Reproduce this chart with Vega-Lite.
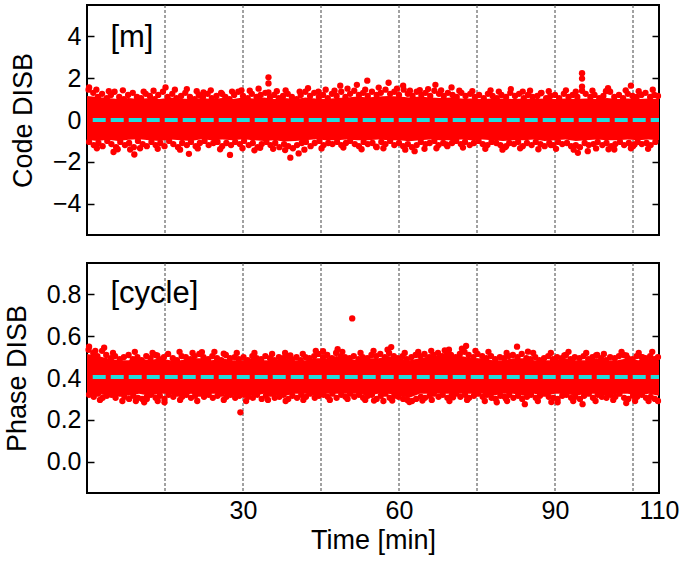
{
"$schema":"https://vega.github.io/schema/vega-lite/v6.json",
"padding":{"left":2,"top":3,"right":5,"bottom":5},
"config":{"view":{"stroke":"black","strokeWidth":2},"font":"Liberation Sans",
 "axis":{"labelFont":"Liberation Sans","titleFont":"Liberation Sans","labelColor":"black","titleColor":"black","titleFontWeight":"normal","domain":false,"grid":false,"tickColor":"black","tickWidth":1.5}},
"datasets":{
"grid":[{"t":15},{"t":30},{"t":45},{"t":60},{"t":75},{"t":90},{"t":105}],
"codeBand":[{"t":0,"hi":1.15,"lo":-0.95},{"t":2,"hi":1.1,"lo":-1.0},{"t":4,"hi":1.05,"lo":-0.95},{"t":6,"hi":1.0,"lo":-1.0},{"t":8,"hi":1.05,"lo":-0.95},{"t":10,"hi":1.0,"lo":-0.92},{"t":12,"hi":1.05,"lo":-0.97},{"t":14,"hi":1.0,"lo":-1.0},{"t":16,"hi":1.08,"lo":-0.93},{"t":18,"hi":1.03,"lo":-0.97},{"t":20,"hi":1.0,"lo":-1.0},{"t":22,"hi":1.05,"lo":-0.92},{"t":24,"hi":1.0,"lo":-0.97},{"t":26,"hi":1.05,"lo":-0.93},{"t":28,"hi":1.0,"lo":-0.97},{"t":30,"hi":1.08,"lo":-0.92},{"t":32,"hi":1.03,"lo":-0.97},{"t":34,"hi":1.08,"lo":-1.0},{"t":36,"hi":1.0,"lo":-0.97},{"t":38,"hi":1.05,"lo":-1.03},{"t":40,"hi":1.0,"lo":-1.0},{"t":42,"hi":1.08,"lo":-0.97},{"t":44,"hi":1.03,"lo":-0.92},{"t":46,"hi":1.0,"lo":-0.97},{"t":48,"hi":1.05,"lo":-0.97},{"t":50,"hi":1.08,"lo":-0.93},{"t":52,"hi":1.12,"lo":-0.97},{"t":54,"hi":1.08,"lo":-0.97},{"t":56,"hi":1.12,"lo":-0.93},{"t":58,"hi":1.15,"lo":-0.97},{"t":60,"hi":1.12,"lo":-0.97},{"t":62,"hi":1.08,"lo":-1.02},{"t":64,"hi":1.12,"lo":-0.97},{"t":66,"hi":1.08,"lo":-0.93},{"t":68,"hi":1.05,"lo":-0.97},{"t":70,"hi":1.08,"lo":-0.97},{"t":72,"hi":1.03,"lo":-0.93},{"t":74,"hi":1.03,"lo":-0.97},{"t":76,"hi":1.0,"lo":-0.93},{"t":78,"hi":1.03,"lo":-0.97},{"t":80,"hi":1.03,"lo":-1.0},{"t":82,"hi":1.0,"lo":-0.97},{"t":84,"hi":1.03,"lo":-0.97},{"t":86,"hi":1.0,"lo":-0.93},{"t":88,"hi":1.03,"lo":-1.0},{"t":90,"hi":1.0,"lo":-0.97},{"t":92,"hi":1.03,"lo":-0.93},{"t":94,"hi":1.0,"lo":-1.0},{"t":96,"hi":1.03,"lo":-0.97},{"t":98,"hi":1.0,"lo":-0.93},{"t":100,"hi":1.05,"lo":-0.97},{"t":102,"hi":1.0,"lo":-0.97},{"t":104,"hi":1.03,"lo":-0.93},{"t":106,"hi":1.0,"lo":-0.97},{"t":108,"hi":1.03,"lo":-0.93},{"t":110,"hi":1.0,"lo":-0.97}],
"codePts":[
{"t":0.3,"v":1.45},{"t":1.2,"v":1.3},{"t":2.1,"v":1.1},{"t":2.9,"v":1.25},{"t":3.8,"v":1.05},{"t":4.6,"v":1.2},{"t":5.3,"v":1.35},{"t":6.2,"v":1.1},{"t":7.1,"v":1.0},{"t":7.9,"v":1.2},{"t":8.8,"v":1.3},{"t":9.6,"v":1.1},{"t":10.4,"v":1.05},{"t":11.3,"v":1.25},{"t":12.1,"v":1.15},{"t":13.0,"v":1.0},{"t":13.7,"v":1.2},{"t":14.6,"v":1.35},{"t":15.5,"v":1.1},{"t":16.4,"v":1.25},{"t":17.2,"v":1.05},{"t":18.1,"v":1.15},{"t":18.9,"v":1.3},{"t":19.8,"v":1.1},{"t":20.7,"v":1.0},{"t":21.5,"v":1.2},{"t":22.3,"v":1.1},{"t":23.2,"v":1.25},{"t":24.0,"v":1.05},{"t":24.9,"v":1.15},{"t":25.8,"v":1.3},{"t":26.6,"v":1.1},{"t":27.4,"v":1.0},{"t":28.3,"v":1.2},{"t":29.1,"v":1.35},{"t":30.0,"v":1.15},{"t":30.9,"v":1.05},{"t":31.7,"v":1.25},{"t":32.6,"v":1.1},{"t":33.4,"v":1.2},{"t":34.3,"v":1.3},{"t":35.2,"v":1.1},{"t":36.0,"v":1.2},{"t":36.9,"v":1.05},{"t":37.7,"v":1.15},{"t":38.6,"v":1.25},{"t":39.4,"v":1.1},{"t":40.3,"v":1.0},{"t":41.1,"v":1.2},{"t":42.0,"v":1.35},{"t":42.9,"v":1.15},{"t":43.7,"v":1.3},{"t":44.6,"v":1.1},{"t":45.4,"v":1.2},{"t":46.3,"v":1.05},{"t":47.1,"v":1.25},{"t":48.0,"v":1.15},{"t":48.9,"v":1.35},{"t":49.7,"v":1.1},{"t":50.6,"v":1.25},{"t":51.4,"v":1.4},{"t":52.3,"v":1.2},{"t":53.1,"v":1.3},{"t":54.0,"v":1.15},{"t":54.8,"v":1.35},{"t":55.7,"v":1.2},{"t":56.5,"v":1.3},{"t":57.4,"v":1.45},{"t":58.3,"v":1.25},{"t":59.1,"v":1.35},{"t":60.0,"v":1.2},{"t":60.9,"v":1.45},{"t":61.7,"v":1.25},{"t":62.6,"v":1.15},{"t":63.4,"v":1.35},{"t":64.3,"v":1.2},{"t":65.1,"v":1.3},{"t":66.0,"v":1.15},{"t":66.8,"v":1.4},{"t":67.7,"v":1.25},{"t":68.6,"v":1.15},{"t":69.4,"v":1.3},{"t":70.3,"v":1.2},{"t":71.1,"v":1.1},{"t":72.0,"v":1.3},{"t":72.8,"v":1.15},{"t":73.7,"v":1.25},{"t":74.6,"v":1.1},{"t":75.4,"v":1.2},{"t":76.3,"v":1.05},{"t":77.1,"v":1.25},{"t":78.0,"v":1.15},{"t":78.8,"v":1.05},{"t":79.7,"v":1.2},{"t":80.6,"v":1.1},{"t":81.4,"v":1.3},{"t":82.3,"v":1.15},{"t":83.1,"v":1.25},{"t":84.0,"v":1.05},{"t":84.8,"v":1.2},{"t":85.7,"v":1.1},{"t":86.6,"v":1.15},{"t":87.4,"v":1.3},{"t":88.3,"v":1.05},{"t":89.1,"v":1.15},{"t":90.0,"v":1.2},{"t":90.8,"v":1.05},{"t":91.7,"v":1.25},{"t":92.6,"v":1.1},{"t":93.4,"v":1.2},{"t":94.3,"v":1.1},{"t":95.9,"v":1.25},{"t":96.8,"v":1.1},{"t":97.6,"v":1.2},{"t":98.5,"v":1.05},{"t":99.3,"v":1.15},{"t":100.6,"v":1.35},{"t":101.4,"v":1.1},{"t":102.3,"v":1.2},{"t":103.1,"v":1.05},{"t":104.0,"v":1.25},{"t":104.9,"v":1.15},{"t":105.7,"v":1.1},{"t":106.6,"v":1.2},{"t":107.4,"v":1.3},{"t":108.3,"v":1.1},{"t":109.1,"v":1.2},{"t":109.8,"v":1.15},
{"t":0.4,"v":-1.05},{"t":1.3,"v":-1.2},{"t":2.2,"v":-1.1},{"t":3.0,"v":-1.25},{"t":3.9,"v":-1.0},{"t":4.7,"v":-1.15},{"t":5.6,"v":-1.3},{"t":6.4,"v":-1.05},{"t":7.3,"v":-1.2},{"t":8.1,"v":-1.1},{"t":9.0,"v":-1.3},{"t":9.8,"v":-1.0},{"t":10.7,"v":-1.15},{"t":11.5,"v":-1.25},{"t":12.4,"v":-1.05},{"t":13.2,"v":-1.2},{"t":14.1,"v":-1.1},{"t":14.9,"v":-1.25},{"t":15.8,"v":-1.0},{"t":16.6,"v":-1.15},{"t":17.5,"v":-1.3},{"t":18.3,"v":-1.1},{"t":19.2,"v":-1.2},{"t":20.0,"v":-1.05},{"t":20.9,"v":-1.25},{"t":21.7,"v":-1.1},{"t":22.6,"v":-1.0},{"t":23.4,"v":-1.2},{"t":24.3,"v":-1.1},{"t":25.1,"v":-1.05},{"t":26.0,"v":-1.25},{"t":26.8,"v":-1.1},{"t":27.7,"v":-1.2},{"t":28.5,"v":-1.05},{"t":29.4,"v":-1.15},{"t":30.2,"v":-1.0},{"t":31.1,"v":-1.2},{"t":31.9,"v":-1.1},{"t":32.8,"v":-1.3},{"t":33.6,"v":-1.15},{"t":34.5,"v":-1.05},{"t":35.3,"v":-1.2},{"t":36.2,"v":-1.1},{"t":37.0,"v":-1.3},{"t":37.9,"v":-1.15},{"t":38.7,"v":-1.25},{"t":39.6,"v":-1.35},{"t":40.4,"v":-1.2},{"t":41.3,"v":-1.1},{"t":42.1,"v":-1.05},{"t":43.0,"v":-1.25},{"t":43.8,"v":-1.1},{"t":44.7,"v":-1.0},{"t":45.5,"v":-1.2},{"t":46.4,"v":-1.1},{"t":47.2,"v":-1.15},{"t":48.1,"v":-1.05},{"t":48.9,"v":-1.2},{"t":49.8,"v":-1.1},{"t":50.6,"v":-1.0},{"t":51.5,"v":-1.15},{"t":52.3,"v":-1.25},{"t":53.2,"v":-1.05},{"t":54.0,"v":-1.15},{"t":54.9,"v":-1.1},{"t":55.7,"v":-1.3},{"t":56.6,"v":-1.05},{"t":57.4,"v":-1.15},{"t":58.3,"v":-1.0},{"t":59.1,"v":-1.2},{"t":60.0,"v":-1.1},{"t":60.8,"v":-1.25},{"t":61.7,"v":-1.15},{"t":62.5,"v":-1.3},{"t":63.4,"v":-1.2},{"t":64.2,"v":-1.05},{"t":65.1,"v":-1.15},{"t":65.9,"v":-1.1},{"t":66.8,"v":-1.0},{"t":67.6,"v":-1.2},{"t":68.5,"v":-1.1},{"t":69.3,"v":-1.25},{"t":70.2,"v":-1.1},{"t":71.0,"v":-1.0},{"t":71.9,"v":-1.15},{"t":72.7,"v":-1.05},{"t":73.6,"v":-1.2},{"t":74.4,"v":-1.1},{"t":75.3,"v":-1.0},{"t":76.1,"v":-1.15},{"t":77.0,"v":-1.2},{"t":77.8,"v":-1.05},{"t":78.7,"v":-1.1},{"t":79.5,"v":-1.2},{"t":80.4,"v":-1.3},{"t":81.2,"v":-1.1},{"t":82.1,"v":-1.15},{"t":82.9,"v":-1.05},{"t":83.8,"v":-1.25},{"t":84.6,"v":-1.1},{"t":85.5,"v":-1.2},{"t":86.3,"v":-1.05},{"t":87.2,"v":-1.15},{"t":88.0,"v":-1.25},{"t":88.9,"v":-1.1},{"t":89.7,"v":-1.2},{"t":90.6,"v":-1.05},{"t":91.4,"v":-1.15},{"t":92.3,"v":-1.1},{"t":93.1,"v":-1.25},{"t":94.0,"v":-1.2},{"t":94.8,"v":-1.3},{"t":95.7,"v":-1.1},{"t":96.5,"v":-1.2},{"t":97.4,"v":-1.15},{"t":98.2,"v":-1.05},{"t":99.1,"v":-1.2},{"t":99.9,"v":-1.1},{"t":100.8,"v":-1.25},{"t":101.6,"v":-1.15},{"t":102.5,"v":-1.05},{"t":103.3,"v":-1.2},{"t":104.2,"v":-1.1},{"t":105.0,"v":-1.25},{"t":105.9,"v":-1.05},{"t":106.7,"v":-1.15},{"t":107.6,"v":-1.1},{"t":108.4,"v":-1.2},{"t":109.3,"v":-1.05},
{"t":1.8,"v":1.45},{"t":4.2,"v":1.38},{"t":6.9,"v":1.42},{"t":10.9,"v":1.36},{"t":12.8,"v":1.4},{"t":16.9,"v":1.45},{"t":21.1,"v":1.38},{"t":23.8,"v":1.42},{"t":27.9,"v":1.36},{"t":31.3,"v":1.4},{"t":33.0,"v":1.5},{"t":36.5,"v":1.38},{"t":38.2,"v":1.42},{"t":40.9,"v":1.36},{"t":45.9,"v":1.45},{"t":47.6,"v":1.4},{"t":50.1,"v":1.5},{"t":53.5,"v":1.45},{"t":56.1,"v":1.55},{"t":59.6,"v":1.5},{"t":62.1,"v":1.4},{"t":65.6,"v":1.48},{"t":68.1,"v":1.42},{"t":71.6,"v":1.4},{"t":74.1,"v":1.38},{"t":77.6,"v":1.42},{"t":79.2,"v":1.36},{"t":85.2,"v":1.4},{"t":88.8,"v":1.38},{"t":92.1,"v":1.42},{"t":94.0,"v":1.36},{"t":97.2,"v":1.4},{"t":99.8,"v":1.38},{"t":103.6,"v":1.42},{"t":106.1,"v":1.38},{"t":108.8,"v":1.45},
{"t":1.9,"v":-1.35},{"t":5.9,"v":-1.4},{"t":10.2,"v":-1.35},{"t":13.6,"v":-1.38},{"t":17.9,"v":-1.42},{"t":21.3,"v":-1.36},{"t":25.6,"v":-1.4},{"t":29.9,"v":-1.35},{"t":32.2,"v":-1.45},{"t":35.8,"v":-1.38},{"t":41.8,"v":-1.42},{"t":45.1,"v":-1.36},{"t":49.3,"v":-1.32},{"t":52.8,"v":-1.4},{"t":57.0,"v":-1.35},{"t":61.2,"v":-1.42},{"t":64.9,"v":-1.38},{"t":67.2,"v":-1.35},{"t":72.3,"v":-1.32},{"t":76.6,"v":-1.38},{"t":79.9,"v":-1.42},{"t":83.3,"v":-1.35},{"t":86.8,"v":-1.4},{"t":90.2,"v":-1.38},{"t":93.6,"v":-1.42},{"t":97.9,"v":-1.36},{"t":100.3,"v":-1.4},{"t":104.6,"v":-1.35},{"t":107.9,"v":-1.38},
{"t":0.4,"v":1.56},{"t":5.1,"v":-1.53},{"t":8.3,"v":-1.41},{"t":9.1,"v":-1.65},{"t":15.1,"v":1.56},{"t":19.2,"v":1.48},{"t":19.6,"v":-1.62},{"t":22.4,"v":1.32},{"t":26,"v":1.24},{"t":27.5,"v":-1.67},{"t":29.7,"v":1.42},{"t":33.3,"v":-1.33},{"t":34.9,"v":2.04},{"t":34.9,"v":1.75},{"t":34.9,"v":1.32},{"t":38.1,"v":-1.44},{"t":39.1,"v":-1.8},{"t":40.7,"v":-1.6},{"t":42.5,"v":1.52},{"t":44.5,"v":1.36},{"t":48.7,"v":1.64},{"t":51.9,"v":1.68},{"t":53.9,"v":1.88},{"t":55.6,"v":-1.27},{"t":58,"v":1.78},{"t":60.8,"v":1.64},{"t":63,"v":-1.49},{"t":64,"v":1.43},{"t":67,"v":1.68},{"t":69.1,"v":-1.17},{"t":70.1,"v":1.56},{"t":80.6,"v":-1.25},{"t":81.5,"v":1.48},{"t":83.8,"v":1.36},{"t":87.3,"v":1.28},{"t":89.2,"v":-1.2},{"t":94.4,"v":-1.57},{"t":95.2,"v":2.24},{"t":95.2,"v":1.98},{"t":95.2,"v":1.6},{"t":95.2,"v":1.4},{"t":96.3,"v":-1.49},{"t":100.2,"v":1.52},{"t":101.4,"v":-1.41},{"t":104.6,"v":1.64},{"t":105.3,"v":-1.17}],
"phaseBand":[{"t":0,"hi":0.515,"lo":0.315},{"t":2,"hi":0.505,"lo":0.325},{"t":4,"hi":0.495,"lo":0.315},{"t":6,"hi":0.485,"lo":0.325},{"t":8,"hi":0.485,"lo":0.315},{"t":10,"hi":0.495,"lo":0.325},{"t":12,"hi":0.485,"lo":0.315},{"t":14,"hi":0.495,"lo":0.325},{"t":16,"hi":0.485,"lo":0.325},{"t":18,"hi":0.485,"lo":0.315},{"t":20,"hi":0.495,"lo":0.325},{"t":22,"hi":0.495,"lo":0.315},{"t":24,"hi":0.485,"lo":0.325},{"t":26,"hi":0.495,"lo":0.325},{"t":28,"hi":0.485,"lo":0.315},{"t":30,"hi":0.485,"lo":0.325},{"t":32,"hi":0.495,"lo":0.315},{"t":34,"hi":0.485,"lo":0.325},{"t":36,"hi":0.485,"lo":0.315},{"t":38,"hi":0.495,"lo":0.315},{"t":40,"hi":0.485,"lo":0.325},{"t":42,"hi":0.485,"lo":0.325},{"t":44,"hi":0.495,"lo":0.315},{"t":46,"hi":0.495,"lo":0.325},{"t":48,"hi":0.505,"lo":0.325},{"t":50,"hi":0.495,"lo":0.325},{"t":52,"hi":0.485,"lo":0.325},{"t":54,"hi":0.495,"lo":0.315},{"t":56,"hi":0.495,"lo":0.325},{"t":58,"hi":0.505,"lo":0.325},{"t":60,"hi":0.495,"lo":0.315},{"t":62,"hi":0.485,"lo":0.305},{"t":64,"hi":0.495,"lo":0.325},{"t":66,"hi":0.505,"lo":0.325},{"t":68,"hi":0.505,"lo":0.325},{"t":70,"hi":0.505,"lo":0.325},{"t":72,"hi":0.505,"lo":0.325},{"t":74,"hi":0.495,"lo":0.325},{"t":76,"hi":0.495,"lo":0.325},{"t":78,"hi":0.485,"lo":0.315},{"t":80,"hi":0.485,"lo":0.325},{"t":82,"hi":0.495,"lo":0.325},{"t":84,"hi":0.495,"lo":0.315},{"t":86,"hi":0.485,"lo":0.325},{"t":88,"hi":0.485,"lo":0.315},{"t":90,"hi":0.485,"lo":0.325},{"t":92,"hi":0.495,"lo":0.325},{"t":94,"hi":0.485,"lo":0.315},{"t":96,"hi":0.485,"lo":0.325},{"t":98,"hi":0.495,"lo":0.325},{"t":100,"hi":0.485,"lo":0.315},{"t":102,"hi":0.485,"lo":0.325},{"t":104,"hi":0.495,"lo":0.325},{"t":106,"hi":0.485,"lo":0.315},{"t":108,"hi":0.495,"lo":0.325},{"t":110,"hi":0.485,"lo":0.315}],
"phasePts":[
{"t":0.3,"v":0.535},{"t":1.2,"v":0.52},{"t":2.0,"v":0.505},{"t":2.9,"v":0.53},{"t":3.7,"v":0.51},{"t":4.6,"v":0.495},{"t":5.4,"v":0.505},{"t":6.3,"v":0.49},{"t":7.1,"v":0.5},{"t":8.0,"v":0.51},{"t":8.8,"v":0.49},{"t":9.7,"v":0.5},{"t":10.5,"v":0.485},{"t":11.4,"v":0.505},{"t":12.2,"v":0.495},{"t":13.1,"v":0.51},{"t":13.9,"v":0.49},{"t":14.8,"v":0.5},{"t":15.6,"v":0.515},{"t":16.5,"v":0.495},{"t":17.3,"v":0.485},{"t":18.2,"v":0.505},{"t":19.0,"v":0.5},{"t":19.9,"v":0.49},{"t":20.7,"v":0.505},{"t":21.6,"v":0.515},{"t":22.4,"v":0.5},{"t":23.3,"v":0.49},{"t":24.1,"v":0.505},{"t":25.0,"v":0.495},{"t":25.8,"v":0.485},{"t":26.7,"v":0.51},{"t":27.5,"v":0.495},{"t":28.4,"v":0.5},{"t":29.2,"v":0.49},{"t":30.1,"v":0.5},{"t":30.9,"v":0.485},{"t":31.8,"v":0.505},{"t":32.6,"v":0.495},{"t":33.5,"v":0.49},{"t":34.3,"v":0.505},{"t":35.2,"v":0.495},{"t":36.0,"v":0.485},{"t":36.9,"v":0.5},{"t":37.7,"v":0.495},{"t":38.6,"v":0.505},{"t":39.4,"v":0.49},{"t":40.3,"v":0.5},{"t":41.1,"v":0.485},{"t":42.0,"v":0.5},{"t":42.8,"v":0.495},{"t":43.7,"v":0.505},{"t":44.5,"v":0.515},{"t":45.4,"v":0.5},{"t":46.2,"v":0.51},{"t":47.1,"v":0.495},{"t":47.9,"v":0.52},{"t":48.8,"v":0.505},{"t":49.6,"v":0.5},{"t":50.5,"v":0.495},{"t":51.3,"v":0.505},{"t":52.2,"v":0.49},{"t":53.0,"v":0.5},{"t":53.9,"v":0.495},{"t":54.7,"v":0.51},{"t":55.6,"v":0.505},{"t":56.4,"v":0.515},{"t":57.3,"v":0.5},{"t":58.1,"v":0.52},{"t":59.0,"v":0.505},{"t":59.8,"v":0.495},{"t":60.7,"v":0.505},{"t":61.5,"v":0.49},{"t":62.4,"v":0.5},{"t":63.2,"v":0.51},{"t":64.1,"v":0.505},{"t":64.9,"v":0.515},{"t":65.8,"v":0.5},{"t":66.6,"v":0.51},{"t":67.5,"v":0.52},{"t":68.3,"v":0.505},{"t":69.2,"v":0.515},{"t":70.0,"v":0.51},{"t":70.9,"v":0.5},{"t":71.7,"v":0.515},{"t":72.6,"v":0.525},{"t":73.4,"v":0.51},{"t":74.3,"v":0.5},{"t":75.1,"v":0.515},{"t":76.0,"v":0.505},{"t":76.8,"v":0.495},{"t":77.7,"v":0.505},{"t":78.5,"v":0.49},{"t":79.4,"v":0.5},{"t":80.2,"v":0.495},{"t":81.1,"v":0.505},{"t":81.9,"v":0.51},{"t":82.8,"v":0.5},{"t":83.6,"v":0.515},{"t":84.5,"v":0.495},{"t":85.3,"v":0.49},{"t":86.2,"v":0.5},{"t":87.0,"v":0.485},{"t":87.9,"v":0.495},{"t":88.7,"v":0.505},{"t":89.6,"v":0.49},{"t":90.4,"v":0.5},{"t":91.3,"v":0.495},{"t":92.1,"v":0.51},{"t":93.0,"v":0.49},{"t":93.8,"v":0.5},{"t":94.7,"v":0.495},{"t":95.5,"v":0.505},{"t":96.4,"v":0.49},{"t":97.2,"v":0.5},{"t":98.1,"v":0.51},{"t":98.9,"v":0.495},{"t":99.8,"v":0.485},{"t":100.6,"v":0.5},{"t":101.5,"v":0.495},{"t":102.3,"v":0.505},{"t":103.2,"v":0.51},{"t":104.0,"v":0.495},{"t":104.9,"v":0.49},{"t":105.7,"v":0.505},{"t":106.6,"v":0.5},{"t":107.4,"v":0.495},{"t":108.3,"v":0.505},{"t":109.1,"v":0.49},{"t":109.8,"v":0.5},
{"t":0.4,"v":0.32},{"t":1.3,"v":0.31},{"t":2.1,"v":0.325},{"t":3.0,"v":0.305},{"t":3.8,"v":0.315},{"t":4.7,"v":0.32},{"t":5.5,"v":0.305},{"t":6.4,"v":0.325},{"t":7.2,"v":0.31},{"t":8.1,"v":0.3},{"t":8.9,"v":0.315},{"t":9.8,"v":0.305},{"t":10.6,"v":0.3},{"t":11.5,"v":0.31},{"t":12.3,"v":0.32},{"t":13.2,"v":0.305},{"t":14.0,"v":0.315},{"t":14.9,"v":0.3},{"t":15.7,"v":0.32},{"t":16.6,"v":0.31},{"t":17.4,"v":0.325},{"t":18.3,"v":0.31},{"t":19.1,"v":0.32},{"t":20.0,"v":0.305},{"t":20.8,"v":0.315},{"t":21.7,"v":0.325},{"t":22.5,"v":0.31},{"t":23.4,"v":0.32},{"t":24.2,"v":0.305},{"t":25.1,"v":0.315},{"t":25.9,"v":0.325},{"t":26.8,"v":0.31},{"t":27.6,"v":0.32},{"t":28.5,"v":0.305},{"t":29.3,"v":0.315},{"t":30.2,"v":0.32},{"t":31.0,"v":0.31},{"t":31.9,"v":0.305},{"t":32.7,"v":0.32},{"t":33.6,"v":0.3},{"t":34.4,"v":0.315},{"t":35.3,"v":0.325},{"t":36.1,"v":0.305},{"t":37.0,"v":0.31},{"t":37.8,"v":0.32},{"t":38.7,"v":0.3},{"t":39.5,"v":0.315},{"t":40.4,"v":0.305},{"t":41.2,"v":0.32},{"t":42.1,"v":0.31},{"t":42.9,"v":0.325},{"t":43.8,"v":0.305},{"t":44.6,"v":0.315},{"t":45.5,"v":0.32},{"t":46.3,"v":0.31},{"t":47.2,"v":0.325},{"t":48.0,"v":0.305},{"t":48.9,"v":0.32},{"t":49.7,"v":0.31},{"t":50.6,"v":0.325},{"t":51.4,"v":0.31},{"t":52.3,"v":0.32},{"t":53.1,"v":0.305},{"t":54.0,"v":0.315},{"t":54.8,"v":0.32},{"t":55.7,"v":0.3},{"t":56.5,"v":0.315},{"t":57.4,"v":0.325},{"t":58.2,"v":0.305},{"t":59.1,"v":0.315},{"t":59.9,"v":0.31},{"t":60.8,"v":0.3},{"t":61.6,"v":0.295},{"t":62.5,"v":0.29},{"t":63.3,"v":0.3},{"t":64.2,"v":0.31},{"t":65.0,"v":0.305},{"t":65.9,"v":0.315},{"t":66.7,"v":0.325},{"t":67.6,"v":0.31},{"t":68.4,"v":0.32},{"t":69.3,"v":0.305},{"t":70.1,"v":0.315},{"t":71.0,"v":0.325},{"t":71.8,"v":0.31},{"t":72.7,"v":0.32},{"t":73.5,"v":0.305},{"t":74.4,"v":0.315},{"t":75.2,"v":0.325},{"t":76.1,"v":0.31},{"t":76.9,"v":0.32},{"t":77.8,"v":0.305},{"t":78.6,"v":0.3},{"t":79.5,"v":0.315},{"t":80.3,"v":0.31},{"t":81.2,"v":0.32},{"t":82.0,"v":0.305},{"t":82.9,"v":0.315},{"t":83.7,"v":0.3},{"t":84.6,"v":0.31},{"t":85.4,"v":0.32},{"t":86.3,"v":0.305},{"t":87.1,"v":0.315},{"t":88.0,"v":0.325},{"t":88.8,"v":0.31},{"t":89.7,"v":0.305},{"t":90.5,"v":0.3},{"t":91.4,"v":0.315},{"t":92.2,"v":0.32},{"t":93.1,"v":0.305},{"t":93.9,"v":0.31},{"t":94.8,"v":0.3},{"t":95.6,"v":0.315},{"t":96.5,"v":0.325},{"t":97.3,"v":0.305},{"t":98.2,"v":0.32},{"t":99.0,"v":0.31},{"t":99.9,"v":0.305},{"t":100.7,"v":0.32},{"t":101.6,"v":0.31},{"t":102.4,"v":0.325},{"t":103.3,"v":0.305},{"t":104.1,"v":0.3},{"t":105.0,"v":0.315},{"t":105.8,"v":0.31},{"t":106.7,"v":0.32},{"t":107.5,"v":0.305},{"t":108.4,"v":0.31},{"t":109.2,"v":0.3},
{"t":1.6,"v":0.53},{"t":5.0,"v":0.52},{"t":9.2,"v":0.525},{"t":12.6,"v":0.52},{"t":17.8,"v":0.525},{"t":20.3,"v":0.52},{"t":24.5,"v":0.525},{"t":28.8,"v":0.52},{"t":32.2,"v":0.52},{"t":35.6,"v":0.515},{"t":38.1,"v":0.52},{"t":41.5,"v":0.515},{"t":44.0,"v":0.53},{"t":49.1,"v":0.525},{"t":52.6,"v":0.52},{"t":55.1,"v":0.53},{"t":57.8,"v":0.535},{"t":61.1,"v":0.52},{"t":63.7,"v":0.525},{"t":66.2,"v":0.53},{"t":69.6,"v":0.535},{"t":72.1,"v":0.54},{"t":74.7,"v":0.53},{"t":77.2,"v":0.525},{"t":80.7,"v":0.52},{"t":85.8,"v":0.52},{"t":89.2,"v":0.52},{"t":92.6,"v":0.525},{"t":96.0,"v":0.52},{"t":99.4,"v":0.515},{"t":102.8,"v":0.525},{"t":106.1,"v":0.52},{"t":108.7,"v":0.525},
{"t":2.5,"v":0.295},{"t":6.8,"v":0.29},{"t":9.4,"v":0.29},{"t":13.6,"v":0.29},{"t":17.9,"v":0.295},{"t":21.2,"v":0.29},{"t":26.3,"v":0.295},{"t":30.6,"v":0.29},{"t":34.8,"v":0.295},{"t":38.2,"v":0.29},{"t":41.6,"v":0.295},{"t":46.7,"v":0.295},{"t":50.1,"v":0.3},{"t":53.5,"v":0.295},{"t":57.0,"v":0.29},{"t":62.0,"v":0.285},{"t":66.3,"v":0.295},{"t":69.7,"v":0.29},{"t":73.1,"v":0.295},{"t":76.5,"v":0.29},{"t":80.8,"v":0.29},{"t":86.7,"v":0.29},{"t":89.3,"v":0.285},{"t":93.5,"v":0.29},{"t":97.8,"v":0.29},{"t":101.2,"v":0.295},{"t":105.4,"v":0.29},{"t":108.0,"v":0.29},
{"t":0.4,"v":0.55},{"t":3.3,"v":0.545},{"t":5.4,"v":0.316},{"t":11,"v":0.284},{"t":11.5,"v":0.3},{"t":13.5,"v":0.508},{"t":14.9,"v":0.284},{"t":22.1,"v":0.524},{"t":26.3,"v":0.516},{"t":29.5,"v":0.236},{"t":39.1,"v":0.508},{"t":45.4,"v":0.528},{"t":48.2,"v":0.538},{"t":51,"v":0.685},{"t":55.2,"v":0.292},{"t":58.5,"v":0.548},{"t":58.7,"v":0.292},{"t":64.5,"v":0.292},{"t":68.8,"v":0.532},{"t":70.4,"v":0.308},{"t":72.9,"v":0.553},{"t":78.8,"v":0.284},{"t":80.6,"v":0.3},{"t":82.7,"v":0.55},{"t":84.2,"v":0.275},{"t":84.8,"v":0.526},{"t":90.5,"v":0.284},{"t":91.8,"v":0.508},{"t":95.3,"v":0.275},{"t":97.9,"v":0.508},{"t":103.7,"v":0.28},{"t":103.7,"v":0.508},{"t":106.8,"v":0.5},{"t":109.8,"v":0.29}]
},
"spacing":24,
"vconcat":[
{"width":572,"height":230,
 "resolve":{"axis":{"y":"independent"}},
 "layer":[
  {"data":{"name":"grid"},"mark":{"type":"rule","color":"#444444","strokeWidth":1,"strokeDash":[3,2]},
   "encoding":{"x":{"field":"t","type":"quantitative","scale":{"domain":[0,110],"nice":false,"zero":false},"axis":null}}},
  {"data":{"name":"codeBand"},"mark":{"type":"area","color":"#ff0000","opacity":1},
   "encoding":{"x":{"field":"t","type":"quantitative","axis":null},
    "y":{"field":"lo","type":"quantitative","scale":{"domain":[-5.5,5.5],"nice":false,"zero":false},
      "axis":{"orient":"left","values":[-4,-2,0,2,4],"title":"Code DISB","titleFontSize":27,"labelFontSize":25,"tickSize":-7,"labelPadding":13,"titlePadding":15}},
    "y2":{"field":"hi"}}},
  {"data":{"name":"codePts"},"mark":{"type":"point","filled":true,"color":"#ff0000","size":40,"opacity":1},
   "encoding":{"x":{"field":"t","type":"quantitative","axis":null},
    "y":{"field":"v","type":"quantitative","scale":{"domain":[-5.5,5.5],"nice":false,"zero":false},
      "axis":{"orient":"right","values":[-4,-2,0,2,4],"labels":false,"title":null,"tickSize":-7}}}},
  {"data":{"values":[{"t":1.1,"t2":110,"y":0}]},"mark":{"type":"rule","color":"#22dddd","strokeWidth":4,"strokeDash":[13,5]},
   "encoding":{"x":{"field":"t","type":"quantitative","axis":null},"x2":{"field":"t2"},"y":{"field":"y","type":"quantitative","axis":null}}},
  {"data":{"values":[{"t":4.5,"y":3.5,"s":"[m]"}]},"mark":{"type":"text","align":"left","baseline":"alphabetic","fontSize":31,"font":"Liberation Sans","color":"black"},
   "encoding":{"x":{"field":"t","type":"quantitative","axis":null},"y":{"field":"y","type":"quantitative","axis":null},"text":{"field":"s"}}}
 ]},
{"width":572,"height":230,
 "resolve":{"axis":{"y":"independent"}},
 "layer":[
  {"data":{"name":"grid"},"mark":{"type":"rule","color":"#444444","strokeWidth":1,"strokeDash":[3,2]},
   "encoding":{"x":{"field":"t","type":"quantitative","scale":{"domain":[0,110],"nice":false,"zero":false},
     "axis":{"values":[30,60,90,110],"title":"Time [min]","titleFontSize":27,"labelFontSize":25,"ticks":false,"labelPadding":5,"titlePadding":4,"labelFlush":false}}}},
  {"data":{"name":"phaseBand"},"mark":{"type":"area","color":"#ff0000","opacity":1},
   "encoding":{"x":{"field":"t","type":"quantitative"},
    "y":{"field":"lo","type":"quantitative","scale":{"domain":[-0.15,0.95],"nice":false,"zero":false},
      "axis":{"orient":"left","values":[0,0.2,0.4,0.6,0.8],"format":".1f","title":"Phase DISB","titleFontSize":27,"labelFontSize":25,"tickSize":-7,"labelPadding":13,"titlePadding":15}},
    "y2":{"field":"hi"}}},
  {"data":{"name":"phasePts"},"mark":{"type":"point","filled":true,"color":"#ff0000","size":40,"opacity":1},
   "encoding":{"x":{"field":"t","type":"quantitative"},
    "y":{"field":"v","type":"quantitative","scale":{"domain":[-0.15,0.95],"nice":false,"zero":false},
      "axis":{"orient":"right","values":[0,0.2,0.4,0.6,0.8],"labels":false,"title":null,"tickSize":-7}}}},
  {"data":{"values":[{"t":1.1,"t2":110,"y":0.405}]},"mark":{"type":"rule","color":"#22dddd","strokeWidth":4,"strokeDash":[13,5]},
   "encoding":{"x":{"field":"t","type":"quantitative"},"x2":{"field":"t2"},"y":{"field":"y","type":"quantitative","axis":null}}},
  {"data":{"values":[{"t":4.5,"y":0.758,"s":"[cycle]"}]},"mark":{"type":"text","align":"left","baseline":"alphabetic","fontSize":31,"font":"Liberation Sans","color":"black"},
   "encoding":{"x":{"field":"t","type":"quantitative"},"y":{"field":"y","type":"quantitative","axis":null},"text":{"field":"s"}}}
 ]}
]
}
